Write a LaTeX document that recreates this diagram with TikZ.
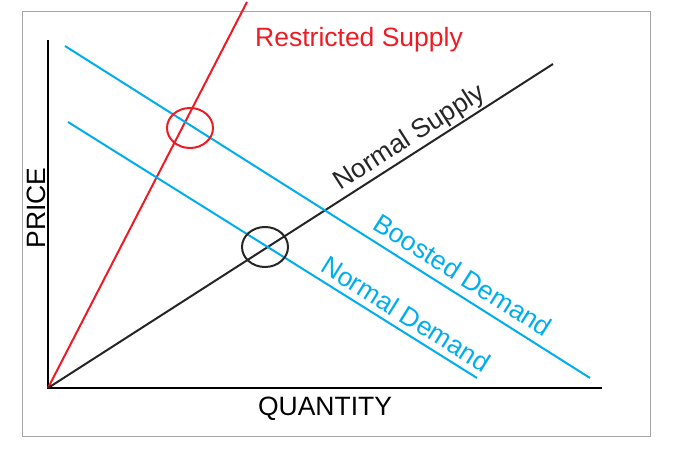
\documentclass[tikz,border=0pt]{standalone}
\usepackage{fontspec}
\setmainfont{Liberation Sans}
\begin{document}
\begin{tikzpicture}[x=1pt,y=-1pt,
  lbl/.style={font=\fontsize{26.5}{29}\selectfont,inner sep=0pt},
  ln/.style={line width=2pt}]
\definecolor{cy}{RGB}{0,174,239}
\definecolor{rd}{RGB}{237,28,36}
\useasboundingbox (0,0) rectangle (675,452);
\draw[gray!70,line width=1pt] (22,12) rectangle (650,436);
\coordinate (o) at (48,388);
\coordinate (ytop) at (48,40);
\coordinate (xend) at (602,388);
\draw[line width=2pt] (ytop) -- (o) -- (xend);
\coordinate (rs) at (247,2);
\coordinate (ns) at (553,64);
\coordinate (b1) at (65,46); \coordinate (b2) at (590,378);
\coordinate (n1) at (68,122); \coordinate (n2) at (477,378);
\draw[ln,rd] (o) -- (rs);
\draw[ln,black!85] (o) -- (ns);
\draw[ln,cy] (b1) -- (b2);
\draw[ln,cy] (n1) -- (n2);
\draw[rd,line width=2pt] (190,128) ellipse (23 and 20);
\draw[black!85,line width=2pt] (265,247) ellipse (23 and 20);
\node[lbl,rd,anchor=west] (trs) at (255,40) {Restricted Supply};
\node[lbl,black!85,rotate=32.7] (tns) at (410,138) {Normal Supply};
\node[lbl,cy,rotate=-32.3] (tbd) at (463,275) {Boosted Demand};
\node[lbl,cy,rotate=-32] (tnd) at (406,314) {Normal Demand};
\node[lbl,rotate=90] (tp) at (36,208) {PRICE};
\node[lbl] (tq) at (325,409) {QUANTITY};
\end{tikzpicture}
\end{document}
